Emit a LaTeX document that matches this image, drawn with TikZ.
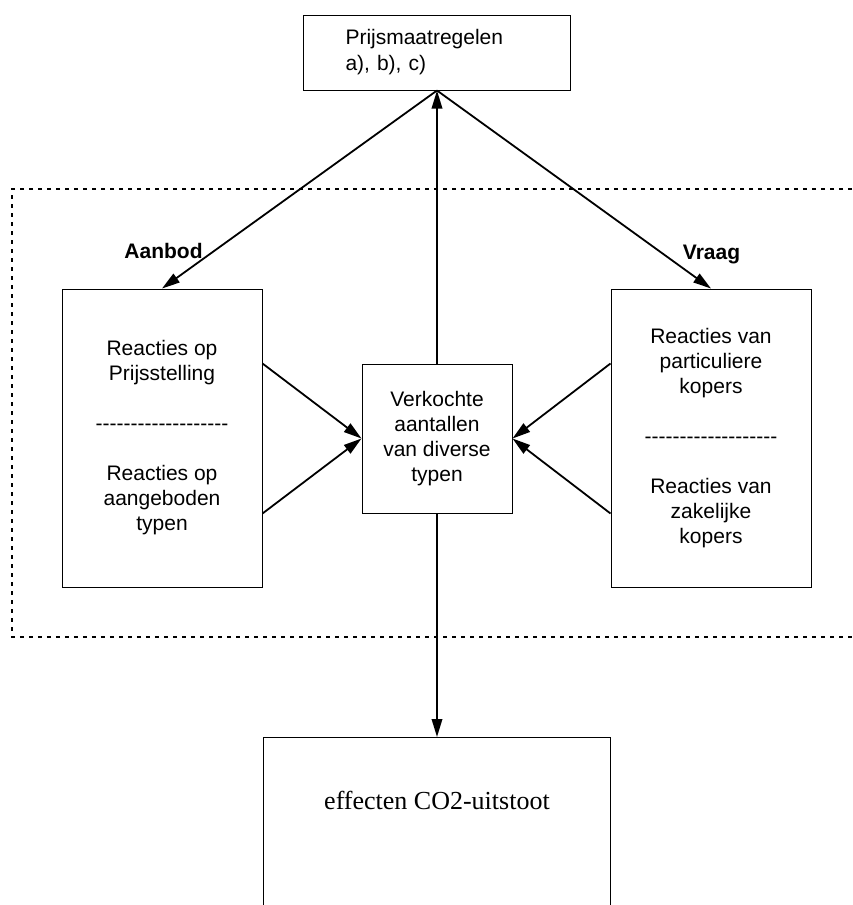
\documentclass[tikz,border=0pt]{standalone}
\usepackage{fontspec}
\newfontfamily\arialfont{Liberation Sans}
\newfontfamily\timesfont{Liberation Serif}
\usetikzlibrary{arrows.meta}
\newcommand{\streepjes}{-------------------}
\begin{document}
\begin{tikzpicture}[x=1pt,y=-1pt,
        box/.style={draw, line width=1pt, inner sep=0pt, align=center, font={\arialfont\fontsize{21}{25}\selectfont}},
        pijl/.style={line width=1.8pt, -{Triangle[length=18pt,width=10.5pt]}},
        kop/.style={anchor=base, font={\arialfont\bfseries\fontsize{21}{25}\selectfont}}]
        \useasboundingbox (0,0) rectangle (852,905);
        \clip (0,0) rectangle (852,905);

        % Frame
        \draw[line width=1.8pt, dash pattern=on 4pt off 5pt] (870,189) -- (12,189) -- (12,637) -- (870,637);

        % Boxes
        \node[box, minimum width=267, minimum height=75, text width=183, align=left] (prijs) at (437,52.5) {Prijsmaatregelen\\[1pt] a), b), c)};
        \node[box, minimum width=200, minimum height=298] (aanbod) at (162,438) {Reacties op\\ Prijsstelling\\[25pt] \streepjes\\[25pt] Reacties op\\ aangeboden\\ typen};
        \node[box, minimum width=150, minimum height=149] (verkocht) at (437,438.5) {Verkochte\\ aantallen\\ van diverse\\ typen};
        \node[box, minimum width=200, minimum height=298] (vraag) at (711,438) {Reacties van\\ particuliere\\ kopers\\[25pt] \streepjes\\[25pt] Reacties van\\ zakelijke\\ kopers};
        \node[box, anchor=north, minimum width=347, minimum height=200] (effect) at (437,737) {};
        \node[anchor=base, font={\timesfont\fontsize{26}{30}\selectfont}] (effecttekst) at (437,809) {effecten CO2-uitstoot};

        % Labels
        \node[kop] (aanbodkop) at (163.5,258.7) {Aanbod};
        \node[kop] (vraagkop) at (711.5,259) {Vraag};

        % Arrows
        \draw[pijl] (prijs.south) -- (aanbod.north);
        \draw[pijl] (prijs.south) -- (vraag.north);
        \draw[pijl] (verkocht.north) -- (prijs.south);
        \draw[pijl] (verkocht.south) -- (effect.north);
        \draw[pijl] (aanbod.east |- verkocht.north) -- (verkocht.west);
        \draw[pijl] (aanbod.east |- verkocht.south) -- (verkocht.west);
        \draw[pijl] (vraag.west |- verkocht.north) -- (verkocht.east);
        \draw[pijl] (vraag.west |- verkocht.south) -- (verkocht.east);
    \end{tikzpicture}
\end{document}
